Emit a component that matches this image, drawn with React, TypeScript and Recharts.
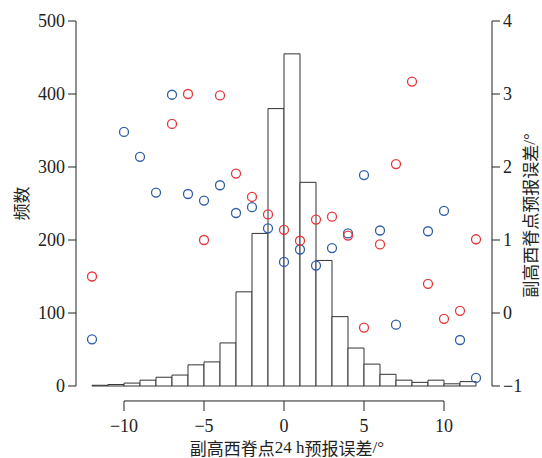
import { ComposedChart, Bar, Scatter, XAxis, YAxis, ReferenceLine } from 'recharts';

// histogram bins: each bin covers [start, start + 1)
const binStarts = [-12, -11, -10, -9, -8, -7, -6, -5, -4, -3, -2, -1, 0, 1, 2, 3, 4, 5, 6, 7, 8, 9, 10, 11];
const binCounts = [1, 2, 4, 8, 12, 15, 29, 33, 59, 129, 209, 380, 455, 279, 172, 95, 52, 30, 16, 8, 5, 8, 3, 6];

// scatter points on the right axis, one per integer error (null = no point)
const pointX = [-12, -11, -10, -9, -8, -7, -6, -5, -4, -3, -2, -1, 0, 1, 2, 3, 4, 5, 6, 7, 8, 9, 10, 11, 12];
const redValues = [0.5, null, null, null, null, 2.59, 3.0, 1.0, 2.98, 1.91, 1.59, 1.35, 1.14, 0.99, 1.28, 1.32, 1.06, -0.2, 0.94, 2.04, 3.17, 0.4, -0.08, 0.03, 1.01];
const blueValues = [-0.36, null, 2.48, 2.14, 1.65, 2.99, 1.63, 1.54, 1.75, 1.37, 1.45, 1.16, 0.7, 0.87, 0.65, 0.89, 1.09, 1.89, 1.13, -0.16, null, 1.12, 1.4, -0.37, -0.89];

const leftTicks = [0, 100, 200, 300, 400, 500];
const rightTicks = [-1, 0, 1, 2, 3, 4];
const xTicks = [-10, -5, 0, 5, 10];

const NUM_FONT = "'Times New Roman', 'Liberation Serif', 'DejaVu Serif', serif";
const CJK_FONT = "'Noto Sans CJK SC', sans-serif";
const INK = '#222';
const RED = '#E8353B';
const BLUE = '#2F5DAB';

const histData = binStarts.map((s, i) => ({ x: s + 0.5, count: binCounts[i] }));
const toPoints = (vals: (number | null)[]) =>
  pointX.map((x, i) => ({ x, v: vals[i] })).filter((p) => p.v !== null);
const redData = toPoints(redValues);
const blueData = toPoints(blueValues);

const fmt = (v: number) => String(v).replace('-', '\u2212');

const XTick = ({ x, y, payload }: any) => (
  <g>
    <line x1={x} x2={x} y1={y + 15} y2={y + 25} stroke={INK} strokeWidth={1} />
    <text x={x} y={y + 46} textAnchor="middle" fontSize={18} style={{ fontFamily: NUM_FONT }} fill={INK}>
      {fmt(payload.value)}
    </text>
  </g>
);

const YTick = ({ x, y, payload, textAnchor }: any) => (
  <text x={x} y={y + 6} textAnchor={textAnchor} fontSize={18} style={{ fontFamily: NUM_FONT }} fill={INK}>
    {fmt(payload.value)}
  </text>
);

const ring = (color: string) => (props: any) => (
  <circle cx={props.cx} cy={props.cy} r={4.5} fill="none" stroke={color} strokeWidth={1.3} />
);

// title split into runs so latin parts use the serif face
const titleText = (runs: string[], cx: number, cy: number, rotate: boolean) => (
  <text
    x={cx}
    y={cy}
    transform={rotate ? `rotate(-90 ${cx} ${cy})` : undefined}
    textAnchor="middle"
    dominantBaseline="central"
    fontSize={17}
    fill={INK}
  >
    {runs.map((r, i) => (
      <tspan key={i} style={{ fontFamily: /[\u4e00-\u9fff]/.test(r) ? CJK_FONT : NUM_FONT }}>
        {r}
      </tspan>
    ))}
  </text>
);

export default function App() {
  return (
    <div style={{ position: 'absolute', left: 0, top: 0, width: 542, height: 458, background: '#fff' }}>
      <ComposedChart
        width={542}
        height={458}
        data={histData}
        margin={{ top: 21, right: 20, bottom: 32, left: 16 }}
        barCategoryGap={0}
        barGap={0}
      >
        <XAxis
          dataKey="x"
          type="number"
          domain={[-13, 13]}
          ticks={xTicks}
          axisLine={false}
          tickLine={false}
          tickSize={0}
          tickMargin={0}
          height={40}
          tick={<XTick />}
          label={{
            content: ({ viewBox }: any) =>
              titleText(['副高西脊点', '24 h', '预报误差', '/°'], viewBox.x + viewBox.width / 2 + 3, viewBox.y + 61, false),
          }}
        />
        <XAxis xAxisId="pts" dataKey="x" type="number" domain={[-13, 13]} hide />
        <YAxis
          yAxisId="left"
          domain={[0, 500]}
          ticks={leftTicks}
          width={60}
          tickSize={8}
          tickMargin={3}
          stroke={INK}
          tick={<YTick />}
          label={{
            content: ({ viewBox }: any) =>
              titleText(['频数'], viewBox.x + 4, viewBox.y + viewBox.height / 2, true),
          }}
        />
        <YAxis
          yAxisId="right"
          orientation="right"
          dataKey="v"
          domain={[-1, 4]}
          ticks={rightTicks}
          width={30}
          tickSize={8}
          tickMargin={3}
          stroke={INK}
          tick={<YTick />}
          label={{
            content: ({ viewBox }: any) =>
              titleText(['副高西脊点预报误差', '/°'], viewBox.x + 37, viewBox.y + viewBox.height / 2 + 12, true),
          }}
        />
        <ReferenceLine
          yAxisId="left"
          segment={[{ x: -10, y: -20.5 }, { x: 10, y: -20.5 }]}
          ifOverflow="visible"
          stroke={INK}
          strokeWidth={1}
        />
        <Bar
          yAxisId="left"
          dataKey="count"
          fill="#fff"
          stroke="#333"
          strokeWidth={1}
          isAnimationActive={false}
        />
        <Scatter xAxisId="pts" yAxisId="right" data={blueData} shape={ring(BLUE)} isAnimationActive={false} />
        <Scatter xAxisId="pts" yAxisId="right" data={redData} shape={ring(RED)} isAnimationActive={false} />
      </ComposedChart>
    </div>
  );
}
